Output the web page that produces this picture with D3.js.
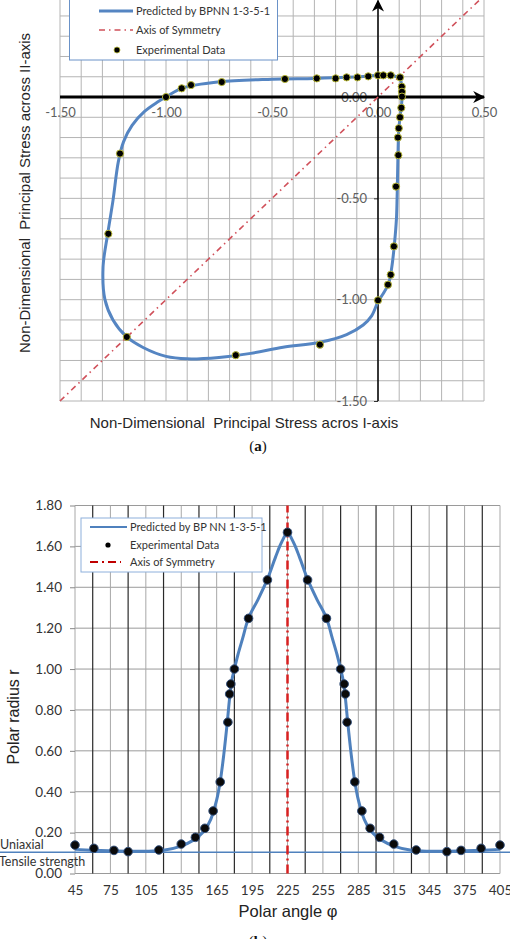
<!DOCTYPE html>
<html>
<head>
<meta charset="utf-8">
<script src="https://cdn.jsdelivr.net/npm/d3@7"></script>
<style>
  body { margin: 0; background: #fff; }
  svg { display: block; }
</style>
</head>
<body>
<script>
// ---- chart (a): failure envelope in the principal stress plane ----
// predicted curve (BPNN 1-3-5-1), clockwise
const curveI  = [0.06, 0.10, 0.11, 0.113, 0.113, 0.11, 0.104, 0.098, 0.095, 0.092, 0.09, 0.087, 0.078, 0.065, 0.05, 0.025, 0.0,
                 -0.03, -0.07, -0.148, -0.274, -0.448, -0.6, -0.75, -0.9, -1.0, -1.108, -1.185, -1.25, -1.288, -1.297,
                 -1.275, -1.25, -1.225, -1.2, -1.16, -1.1, -1.04, -1.0, -0.92, -0.75, -0.5, -0.3, -0.15, -0.05, 0.0];
const curveII = [0.107, 0.095, 0.07, 0.03, -0.01, -0.05, -0.1, -0.16, -0.25, -0.4, -0.5, -0.6, -0.72, -0.84, -0.92, -0.97, -1.01,
                 -1.08, -1.125, -1.172, -1.21, -1.235, -1.265, -1.285, -1.292, -1.28, -1.236, -1.184, -1.10, -1.0, -0.84,
                 -0.675, -0.51, -0.32, -0.22, -0.14, -0.07, -0.025, 0.0, 0.045, 0.075, 0.088, 0.092, 0.097, 0.103, 0.107];
// experimental points
const expI  = [-1.0, -0.926, -0.882, -0.737, -1.217, -0.439, -0.289, -0.2, -0.148, -0.097, -0.046, 0.0, 0.025, 0.06, 0.104, 0.112,
               0.113, 0.113, 0.11, 0.104, 0.098, 0.094, 0.096, 0.085, 0.075, 0.06, 0.047, 0.0, -0.274, -1.272, -1.185, -0.671];
const expII = [0.0, 0.043, 0.059, 0.074, -0.279, 0.089, 0.092, 0.092, 0.097, 0.097, 0.102, 0.107, 0.107, 0.107, 0.097, 0.051,
               0.026, 0.002, -0.053, -0.1, -0.154, -0.2, -0.287, -0.442, -0.737, -0.877, -0.926, -1.003, -1.222, -0.675, -1.184, -1.274];
const ticksA = [-1.5, -1.0, -0.5, 0.0, 0.5];
const yTicksA = [-1.5, -1.0, -0.5, 0.0];
const symA = [-1.5, 0.5];

// ---- chart (b): polar radius vs polar angle ----
const curveAng = [45, 60, 75, 90, 105, 120, 135, 145, 150, 155, 160, 165, 168, 171, 174, 176, 178, 180, 183, 187, 192, 200, 208, 215, 220, 225,
                  230, 235, 242, 250, 258, 263, 267, 270, 272, 274, 276, 279, 282, 285, 290, 295, 300, 305, 315, 330, 345, 360, 375, 390, 405];
const curveR   = [0.118, 0.114, 0.111, 0.109, 0.109, 0.114, 0.134, 0.162, 0.183, 0.214, 0.265, 0.36, 0.45, 0.58, 0.74, 0.86, 0.95, 1.0, 1.07, 1.15, 1.25, 1.34, 1.44, 1.55, 1.62, 1.665,
                  1.62, 1.55, 1.44, 1.34, 1.25, 1.15, 1.07, 1.0, 0.95, 0.86, 0.74, 0.58, 0.45, 0.36, 0.265, 0.214, 0.183, 0.162, 0.134, 0.114, 0.109, 0.109, 0.111, 0.114, 0.118];
const expAng = [45, 61, 78, 90, 116, 135, 147, 155, 162, 168, 174.5, 176, 177, 180, 192, 208, 225, 242, 258, 270, 273, 274, 275.5,
                282, 288, 295, 303, 315, 334, 360, 372, 389, 405];
const expR   = [0.139, 0.123, 0.113, 0.107, 0.115, 0.144, 0.177, 0.221, 0.306, 0.448, 0.74, 0.878, 0.927, 1.0, 1.248, 1.436, 1.669, 1.436, 1.248, 1.0, 0.927, 0.878, 0.74,
                0.448, 0.306, 0.221, 0.177, 0.144, 0.115, 0.107, 0.113, 0.123, 0.139];
const angleTicks = [45, 75, 105, 135, 165, 195, 225, 255, 285, 315, 345, 375, 405];
const symAngle = 225;
const uniaxial = 0.104;

const blue = "#4f81bd";
const fmt2 = d => d3.format(".2f")(d).replace("\u2212", "-");
const svg = d3.select("body").append("svg").attr("width", 510).attr("height", 939);

const defs = svg.append("defs");
defs.append("marker").attr("id", "arrowBig")
    .attr("viewBox", "0 0 10 10").attr("refX", 9).attr("refY", 5)
    .attr("markerWidth", 12).attr("markerHeight", 12).attr("markerUnits", "userSpaceOnUse")
    .attr("orient", "auto")
  .append("path").attr("d", "M0,0 L10,5 L0,10 L3,5 Z").attr("fill", "#000");

// ================= chart (a) =================
const xA = d3.scaleLinear().domain([-1.5, 0.5]).range([60, 484]);
const yA = d3.scaleLinear().domain([-1.5, 0.5]).range([401, -4.3]);
const gA = svg.append("g");

gA.append("g").selectAll("line").data(xA.ticks(20)).join("line")
    .attr("x1", d => xA(d)).attr("x2", d => xA(d))
    .attr("y1", yA(-1.5)).attr("y2", yA(0.5))
    .attr("stroke", "#b4b4b4").attr("stroke-width", 1);
gA.append("g").selectAll("line").data(yA.ticks(20)).join("line")
    .attr("y1", d => yA(d)).attr("y2", d => yA(d))
    .attr("x1", xA(-1.5)).attr("x2", xA(0.5))
    .attr("stroke", "#b4b4b4").attr("stroke-width", 1);

// tick labels
const axA = gA.append("g").attr("transform", `translate(0,${yA(0)})`)
    .call(d3.axisBottom(xA).tickValues(ticksA).tickFormat(fmt2).tickSize(0).tickPadding(11));
axA.select(".domain").remove();
const ayA = gA.append("g").attr("transform", `translate(${xA(0)},0)`)
    .call(d3.axisLeft(yA).tickValues(yTicksA).tickFormat(fmt2).tickSize(4).tickPadding(7));
ayA.select(".domain").remove();
gA.selectAll(".tick text").attr("font-family", "Lato, 'Liberation Sans', sans-serif")
    .attr("font-size", 13).attr("fill", "#606060");
gA.selectAll(".tick line").attr("stroke", "#333");

// axes lines with arrows
gA.append("line")
    .attr("x1", xA(-1.5)).attr("x2", xA(0.5)).attr("y1", yA(0)).attr("y2", yA(0))
    .attr("stroke", "#000").attr("stroke-width", 3).attr("marker-end", "url(#arrowBig)");
gA.append("line")
    .attr("x1", xA(0)).attr("x2", xA(0)).attr("y1", yA(-1.5)).attr("y2", yA(0.475))
    .attr("stroke", "#000").attr("stroke-width", 1.5).attr("marker-end", "url(#arrowBig)");

// axis of symmetry
gA.append("line")
    .attr("x1", xA(symA[0])).attr("y1", yA(symA[0]))
    .attr("x2", xA(symA[1])).attr("y2", yA(symA[1]))
    .attr("stroke", "#d0505a").attr("stroke-width", 1.6).attr("stroke-dasharray", "6,4,1.5,4");

// predicted envelope
const envelope = curveI.map((v, i) => [v, curveII[i]]);
gA.append("path").datum(envelope)
    .attr("d", d3.line().x(d => xA(d[0])).y(d => yA(d[1])).curve(d3.curveCatmullRomClosed.alpha(0.5)))
    .attr("fill", "none").attr("stroke", "#5585c2").attr("stroke-width", 3);

// experimental data
gA.append("g").selectAll("circle").data(expI.map((v, i) => [v, expII[i]])).join("circle")
    .attr("cx", d => xA(d[0])).attr("cy", d => yA(d[1])).attr("r", 3.6)
    .attr("fill", "#000").attr("stroke", "#b8b838").attr("stroke-width", 1);

// legend (a)
const lgA = gA.append("g");
lgA.append("rect").attr("x", 69.5).attr("y", -2).attr("width", 208).attr("height", 62)
    .attr("fill", "#fff").attr("stroke", "#6a92c8").attr("stroke-width", 1);
lgA.append("line").attr("x1", 99).attr("x2", 133).attr("y1", 11).attr("y2", 11)
    .attr("stroke", "#5585c2").attr("stroke-width", 3);
lgA.append("line").attr("x1", 99).attr("x2", 133).attr("y1", 30).attr("y2", 30)
    .attr("stroke", "#d0505a").attr("stroke-width", 1.6).attr("stroke-dasharray", "6,4,1.5,4");
lgA.append("circle").attr("cx", 117).attr("cy", 50).attr("r", 3)
    .attr("fill", "#000").attr("stroke", "#b8b838").attr("stroke-width", 0.8);
lgA.selectAll("text").data(["Predicted by BPNN 1-3-5-1", "Axis of Symmetry", "Experimental Data"]).join("text")
    .attr("x", 136).attr("y", (d, i) => [11, 30, 50][i]).attr("dy", "0.35em")
    .attr("font-family", "Lato, sans-serif").attr("font-size", 11).attr("fill", "#333")
    .text(d => d);

// titles (a)
gA.append("text").attr("x", 244).attr("y", 428).attr("text-anchor", "middle")
    .attr("font-family", "'Liberation Sans', Arial, sans-serif").attr("font-size", 15).attr("fill", "#262626")
    .attr("xml:space", "preserve")
    .text("Non-Dimensional  Principal Stress acros I-axis");
gA.append("text").attr("transform", "translate(30,193) rotate(-90)").attr("text-anchor", "middle")
    .attr("font-family", "'Liberation Sans', Arial, sans-serif").attr("font-size", 15).attr("fill", "#262626")
    .attr("xml:space", "preserve")
    .text("Non-Dimensional  Principal Stress across II-axis");
gA.append("text").attr("x", 258).attr("y", 451).attr("text-anchor", "middle")
    .attr("font-family", "'Liberation Serif', serif").attr("font-size", 15).attr("fill", "#111")
    .html("(<tspan font-weight='bold'>a</tspan>)");

// ================= chart (b) =================
const xB = d3.scaleLinear().domain([45, 405]).range([75, 500]);
const yB = d3.scaleLinear().domain([0, 1.8]).range([873.5, 505.5]);
const gB = svg.append("g");

gB.append("g").selectAll("line").data(yB.ticks(9)).join("line")
    .attr("y1", d => yB(d)).attr("y2", d => yB(d))
    .attr("x1", xB(45)).attr("x2", xB(405))
    .attr("stroke", "#9a9a9a").attr("stroke-width", 1);
gB.append("g").selectAll("line").data(d3.range(45, 406, 15)).join("line")
    .attr("x1", d => xB(d)).attr("x2", d => xB(d))
    .attr("y1", yB(0)).attr("y2", yB(1.8))
    .attr("stroke", d => ((d - 45) / 15) % 2 === 1 ? "#2a2a2a" : "#a8a8a8")
    .attr("stroke-width", d => ((d - 45) / 15) % 2 === 1 ? 1.2 : 1);

const axB = gB.append("g").attr("transform", `translate(0,${yB(0)})`)
    .call(d3.axisBottom(xB).tickValues(angleTicks).tickFormat(d3.format("d")).tickSize(0).tickPadding(12));
axB.select(".domain").remove();
const ayB = gB.append("g").attr("transform", `translate(${xB(45)},0)`)
    .call(d3.axisLeft(yB).ticks(9).tickFormat(fmt2).tickSize(5).tickPadding(8));
ayB.select(".domain").remove();
gB.selectAll(".tick text").attr("font-family", "Lato, sans-serif").attr("font-size", 13.5).attr("fill", "#333");
gB.selectAll(".tick line").attr("stroke", "#888");

// uniaxial tensile strength line
gB.append("line").attr("x1", 0).attr("x2", 510).attr("y1", yB(uniaxial)).attr("y2", yB(uniaxial))
    .attr("stroke", blue).attr("stroke-width", 1.5);
gB.append("text").attr("x", 0).attr("y", 849)
    .attr("font-family", "Lato, sans-serif").attr("font-size", 12.5).attr("fill", "#333").text("Uniaxial");
gB.append("text").attr("x", -1).attr("y", 866)
    .attr("font-family", "Lato, sans-serif").attr("font-size", 12.5).attr("fill", "#333").text("Tensile strength");

// axis of symmetry
gB.append("line").attr("x1", xB(symAngle)).attr("x2", xB(symAngle)).attr("y1", yB(0)).attr("y2", yB(1.8))
    .attr("stroke", "#d82020").attr("stroke-width", 2.5).attr("stroke-dasharray", "9,4,2,4");

// predicted curve
gB.append("path").datum(curveAng.map((a, i) => [a, curveR[i]]))
    .attr("d", d3.line().x(d => xB(d[0])).y(d => yB(d[1])).curve(d3.curveCatmullRom.alpha(0.5)))
    .attr("fill", "none").attr("stroke", blue).attr("stroke-width", 3);

// experimental data
gB.append("g").selectAll("circle").data(expAng.map((a, i) => [a, expR[i]])).join("circle")
    .attr("cx", d => xB(d[0])).attr("cy", d => yB(d[1])).attr("r", 4.3)
    .attr("fill", "#0a0a0a").attr("stroke", "#34507a").attr("stroke-width", 1);

// legend (b)
const lgB = gB.append("g");
lgB.append("rect").attr("x", 81).attr("y", 518).attr("width", 181).attr("height", 54)
    .attr("fill", "#fff").attr("stroke", "#8eb0dc").attr("stroke-width", 1);
lgB.append("line").attr("x1", 90).attr("x2", 127).attr("y1", 527).attr("y2", 527)
    .attr("stroke", blue).attr("stroke-width", 2.2);
lgB.append("circle").attr("cx", 108).attr("cy", 545).attr("r", 2.6).attr("fill", "#000");
lgB.append("line").attr("x1", 90).attr("x2", 121).attr("y1", 562).attr("y2", 562)
    .attr("stroke", "#c00000").attr("stroke-width", 2.2).attr("stroke-dasharray", "8,4,2,4");
lgB.selectAll("text").data(["Predicted by BP NN 1-3-5-1", "Experimental Data", "Axis of Symmetry"]).join("text")
    .attr("x", 130).attr("y", (d, i) => [527, 545, 562][i]).attr("dy", "0.35em")
    .attr("font-family", "Lato, sans-serif").attr("font-size", 11).attr("fill", "#333")
    .text(d => d);

// titles (b)
gB.append("text").attr("x", 288).attr("y", 917).attr("text-anchor", "middle")
    .attr("font-family", "'Liberation Sans', Arial, sans-serif").attr("font-size", 16.5).attr("fill", "#222")
    .text("Polar angle φ");
gB.append("text").attr("transform", "translate(19,717) rotate(-90)").attr("text-anchor", "middle")
    .attr("font-family", "'Liberation Sans', Arial, sans-serif").attr("font-size", 16).attr("fill", "#222")
    .text("Polar radius r");
gB.append("text").attr("x", 258).attr("y", 946).attr("text-anchor", "middle")
    .attr("font-family", "'Liberation Serif', serif").attr("font-size", 15).attr("fill", "#111")
    .html("(<tspan font-weight='bold'>b</tspan>)");
</script>
</body>
</html>
